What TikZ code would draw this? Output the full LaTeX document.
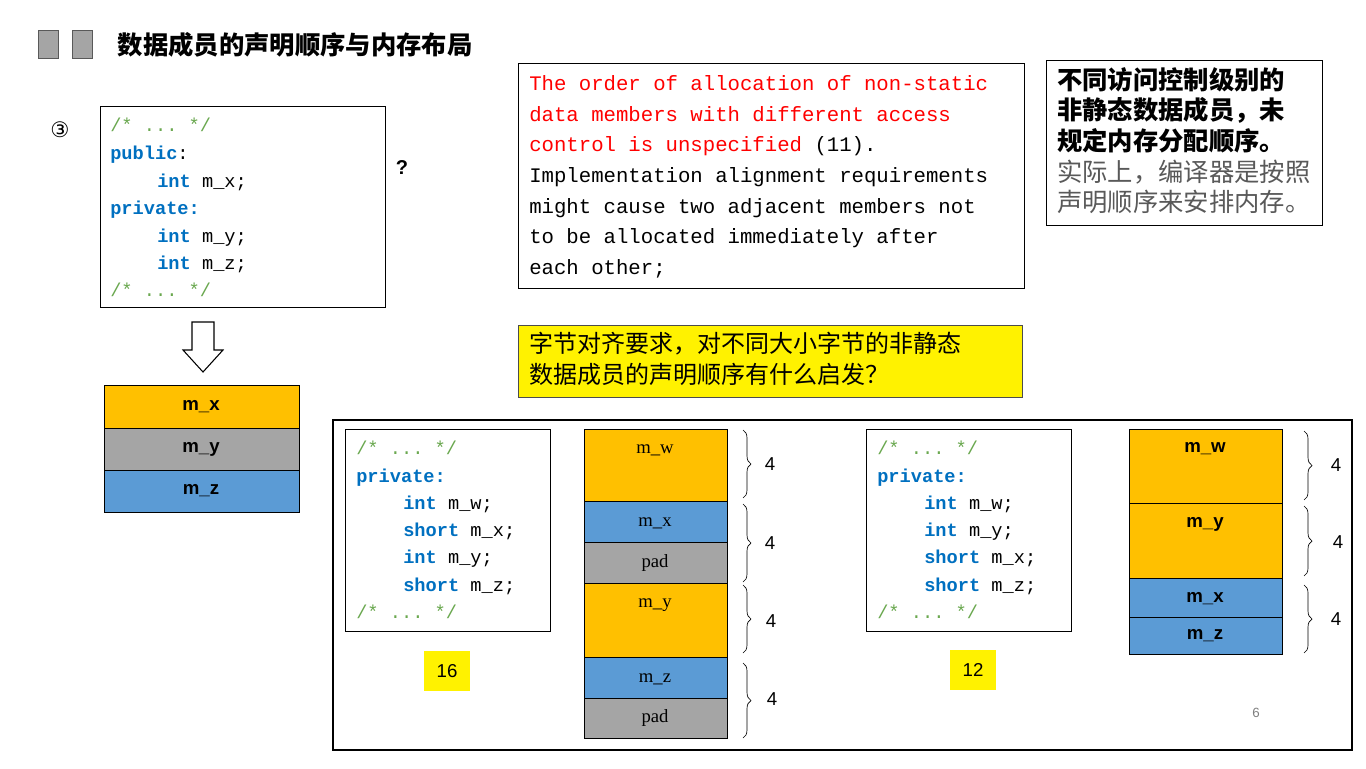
\documentclass[tikz,border=0pt]{standalone}
\usepackage{fontspec}
\setmainfont{Liberation Serif}
\setsansfont{Liberation Sans}
\setmonofont{Liberation Mono}
\newfontfamily\cjk{Noto Sans CJK SC}
\newfontfamily\djv{DejaVu Sans}
\usetikzlibrary{decorations.pathreplacing}
\definecolor{cmt}{HTML}{6AA84F}
\definecolor{kw}{HTML}{0070C0}
\definecolor{org}{HTML}{FFC000}
\definecolor{gry}{HTML}{A5A5A5}
\definecolor{blu}{HTML}{5B9BD5}
\definecolor{ylw}{HTML}{FFF200}
\definecolor{rd}{HTML}{FF0000}
\tikzset{
  code/.style={anchor=base west,inner sep=0pt,font=\ttfamily\fontsize{14}{16}\selectfont},
  memtxt/.style={font=\sffamily\bfseries\fontsize{14}{16}\selectfont},
  memser/.style={font=\fontsize{14}{16}\selectfont},
  cell/.style={draw=black,line width=0.6pt},
  box/.style={draw=black,line width=0.6pt,fill=white},
  brc/.style={decorate,decoration={brace,amplitude=6pt},line width=0.5pt},
  num/.style={font=\sffamily\fontsize{14}{16}\selectfont},
}
\newcommand{\kwd}[1]{\textcolor{kw}{\textbf{#1}}}
\newcommand{\cmtx}[1]{\textcolor{cmt}{#1}}
\begin{document}
\begin{tikzpicture}[x=0.75pt,y=-0.75pt]
\useasboundingbox (0,0) rectangle (1366,768);
\fill[white] (0,0) rectangle (1366,768);
% title
\fill[gry,draw=gray!70!black] (38,30) rectangle (58,58);
\fill[gry,draw=gray!70!black] (72,30) rectangle (92,58);
\node[anchor=west,font=\cjk\bfseries\fontsize{19}{21}\selectfont] (title) at (113,45) {数据成员的声明顺序与内存布局};
% left code
\node[font=\djv\fontsize{16}{18}\selectfont] (c3) at (60,130) {③};
\draw[box] (100,106) rectangle (385,307);
\node[code] (l1) at (110,131) {\cmtx{/* ... */}};
\node[code] (l2) at (110,159) {\kwd{public}:};
\node[code] (l3) at (157,187) {\kwd{int} m\_x;};
\node[code] (l4) at (110,214) {\kwd{private:}};
\node[code] (l5) at (157,242) {\kwd{int} m\_y;};
\node[code] (l6) at (157,269) {\kwd{int} m\_z;};
\node[code] (l7) at (110,296) {\cmtx{/* ... */}};
\node[font=\sffamily\bfseries\fontsize{15}{16}\selectfont] (q) at (402,168) {?};
% arrow
\draw[line width=0.8pt,fill=white] (192,322) -- (214,322) -- (214,350) -- (223,350) -- (203,372) -- (183,350) -- (192,350) -- cycle;
\draw[cell,fill=org] (104,385) rectangle (299,428);
\draw[cell,fill=gry] (104,428) rectangle (299,470);
\draw[cell,fill=blu] (104,470) rectangle (299,512);
\node[memtxt] (ax) at (201,407) {m\_x};
\node[memtxt] (ay) at (201,449) {m\_y};
\node[memtxt] (az) at (201,491) {m\_z};
% red box
\draw[box] (518,63) rectangle (1024,288);
\begin{scope}[every node/.style={code,font=\ttfamily\fontsize{15.5}{17}\selectfont}]
\node (r1) at (529,90) {\textcolor{rd}{The order of allocation of non-static}};
\node (r2) at (529,121) {\textcolor{rd}{data members with different access}};
\node (r3) at (529,151) {\textcolor{rd}{control is unspecified} (11).};
\node (r4) at (529,182) {Implementation alignment requirements};
\node (r5) at (529,213) {might cause two adjacent members not};
\node (r6) at (529,243) {to be allocated immediately after};
\node (r7) at (529,274) {each other;};
\end{scope}
% chinese box
\draw[box] (1046,60) rectangle (1322,225);
\node[anchor=north west,align=left,inner sep=0pt,font=\cjk\fontsize{19}{23}\selectfont] (cn) at (1057,67)
 {\textbf{不同访问控制级别的}\\\textbf{非静态数据成员，未}\\\textbf{规定内存分配顺序。}\\\textcolor{black!65}{实际上，编译器是按照}\\\textcolor{black!65}{声明顺序来安排内存。}};
% yellow question
\draw[draw=black!70,fill=ylw] (518,325) rectangle (1022,397);
\node[anchor=north west,align=left,inner sep=0pt,font=\cjk\fontsize{18}{23}\selectfont] (yq) at (529,332)
 {字节对齐要求，对不同大小字节的非静态\\数据成员的声明顺序有什么启发？};
% big frame
\draw[line width=0.8pt] (333,420) rectangle (1352,750);
% code box 1
\draw[box] (345,429) rectangle (550,631);
\node[code] (a1) at (356,454) {\cmtx{/* ... */}};
\node[code] (a2) at (356,482) {\kwd{private:}};
\node[code] (a3) at (403,509) {\kwd{int} m\_w;};
\node[code] (a4) at (403,536) {\kwd{short} m\_x;};
\node[code] (a5) at (403,563) {\kwd{int} m\_y;};
\node[code] (a6) at (403,591) {\kwd{short} m\_z;};
\node[code] (a7) at (356,618) {\cmtx{/* ... */}};
% memory 1
\draw[cell,fill=org] (584,429) rectangle (727,501);
\draw[cell,fill=blu] (584,501) rectangle (727,542);
\draw[cell,fill=gry] (584,542) rectangle (727,583);
\draw[cell,fill=org] (584,583) rectangle (727,657);
\draw[cell,fill=blu] (584,657) rectangle (727,698);
\draw[cell,fill=gry] (584,698) rectangle (727,738);
\node[memser] (bw) at (655,450) {m\_w};
\node[memser] (bx) at (655,523) {m\_x};
\node[memser] (bp1) at (655,563) {pad};
\node[memser] (by) at (655,605) {m\_y};
\node[memser] (bz) at (655,679) {m\_z};
\node[memser] (bp2) at (655,718) {pad};
\draw[brc] (743,430) -- (743,498);
\draw[brc] (743,504) -- (743,582);
\draw[brc] (743,585) -- (743,653);
\draw[brc] (743,663) -- (743,738);
\node[num] (n1) at (770,464) {4};
\node[num] (n2) at (770,543) {4};
\node[num] (n3) at (771,621) {4};
\node[num] (n4) at (772,699) {4};
\fill[ylw] (424,651) rectangle (470,691);
\node[num] (s16) at (447,671) {16};
% code box 2
\draw[box] (866,429) rectangle (1071,631);
\node[code] (b1) at (877,454) {\cmtx{/* ... */}};
\node[code] (b2) at (877,482) {\kwd{private:}};
\node[code] (b3) at (924,509) {\kwd{int} m\_w;};
\node[code] (b4) at (924,536) {\kwd{int} m\_y;};
\node[code] (b5) at (924,563) {\kwd{short} m\_x;};
\node[code] (b6) at (924,591) {\kwd{short} m\_z;};
\node[code] (b7) at (877,618) {\cmtx{/* ... */}};
% memory 2
\draw[cell,fill=org] (1129,429) rectangle (1282,503);
\draw[cell,fill=org] (1129,503) rectangle (1282,578);
\draw[cell,fill=blu] (1129,578) rectangle (1282,617);
\draw[cell,fill=blu] (1129,617) rectangle (1282,654);
\node[memtxt] (cw) at (1205,449) {m\_w};
\node[memtxt] (cy) at (1205,524) {m\_y};
\node[memtxt] (cx) at (1205,599) {m\_x};
\node[memtxt] (cz) at (1205,636) {m\_z};
\draw[brc] (1304,431) -- (1304,500);
\draw[brc] (1304,506) -- (1304,576);
\draw[brc] (1304,585) -- (1304,653);
\node[num] (m1) at (1336,465) {4};
\node[num] (m2) at (1338,542) {4};
\node[num] (m3) at (1336,619) {4};
\fill[ylw] (950,650) rectangle (996,690);
\node[num] (s12) at (973,670) {12};
\node[font=\sffamily\fontsize{10}{12}\selectfont,text=gray] (pg) at (1256,713) {6};
\end{tikzpicture}
\end{document}
